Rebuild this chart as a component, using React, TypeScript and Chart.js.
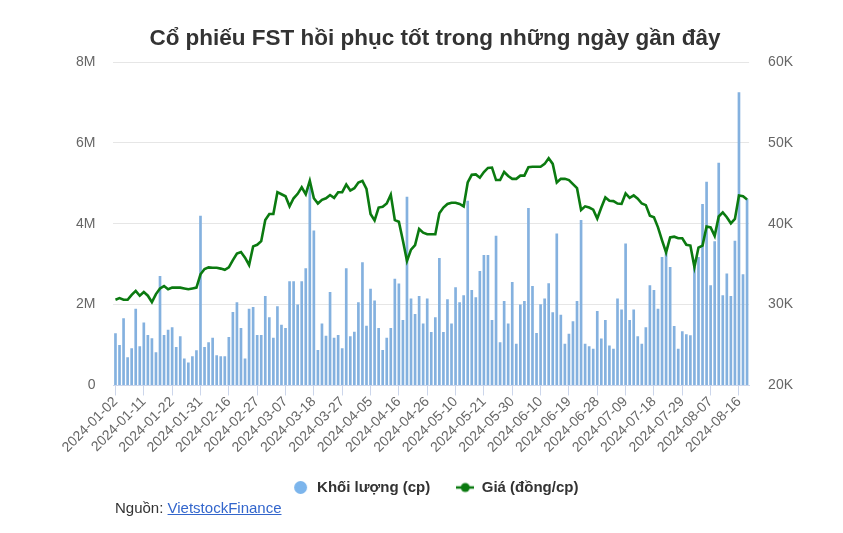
import React, { useEffect, useRef } from 'react';
import { Chart, registerables } from 'chart.js';

Chart.register(...registerables);

const TITLE = 'Cổ phiếu FST hồi phục tốt trong những ngày gần đây';
const VOLUME_LABEL = 'Khối lượng (cp)';
const PRICE_LABEL = 'Giá (đồng/cp)';

const dates: string[] = [
  '2024-01-02','2024-01-03','2024-01-04','2024-01-05','2024-01-08','2024-01-09','2024-01-10','2024-01-11','2024-01-12','2024-01-15',
  '2024-01-16','2024-01-17','2024-01-18','2024-01-19','2024-01-22','2024-01-23','2024-01-24','2024-01-25','2024-01-26','2024-01-29',
  '2024-01-30','2024-01-31','2024-02-01','2024-02-02','2024-02-05','2024-02-06','2024-02-07','2024-02-15','2024-02-16','2024-02-19',
  '2024-02-20','2024-02-21','2024-02-22','2024-02-23','2024-02-26','2024-02-27','2024-02-28','2024-02-29','2024-03-01','2024-03-04',
  '2024-03-05','2024-03-06','2024-03-07','2024-03-08','2024-03-11','2024-03-12','2024-03-13','2024-03-14','2024-03-15','2024-03-18',
  '2024-03-19','2024-03-20','2024-03-21','2024-03-22','2024-03-25','2024-03-26','2024-03-27','2024-03-28','2024-03-29','2024-04-01',
  '2024-04-02','2024-04-03','2024-04-04','2024-04-05','2024-04-08','2024-04-09','2024-04-10','2024-04-11','2024-04-12','2024-04-15',
  '2024-04-16','2024-04-17','2024-04-19','2024-04-22','2024-04-23','2024-04-24','2024-04-25','2024-04-26','2024-05-02','2024-05-03',
  '2024-05-06','2024-05-07','2024-05-08','2024-05-09','2024-05-10','2024-05-13','2024-05-14','2024-05-15','2024-05-16','2024-05-17',
  '2024-05-20','2024-05-21','2024-05-22','2024-05-23','2024-05-24','2024-05-27','2024-05-28','2024-05-29','2024-05-30','2024-05-31',
  '2024-06-03','2024-06-04','2024-06-05','2024-06-06','2024-06-07','2024-06-10','2024-06-11','2024-06-12','2024-06-13','2024-06-14',
  '2024-06-17','2024-06-18','2024-06-19','2024-06-20','2024-06-21','2024-06-24','2024-06-25','2024-06-26','2024-06-27','2024-06-28',
  '2024-07-01','2024-07-02','2024-07-03','2024-07-04','2024-07-05','2024-07-08','2024-07-09','2024-07-10','2024-07-11','2024-07-12',
  '2024-07-15','2024-07-16','2024-07-17','2024-07-18','2024-07-19','2024-07-22','2024-07-23','2024-07-24','2024-07-25','2024-07-26',
  '2024-07-29','2024-07-30','2024-07-31','2024-08-01','2024-08-02','2024-08-05','2024-08-06','2024-08-07','2024-08-08','2024-08-09',
  '2024-08-12','2024-08-13','2024-08-14','2024-08-15','2024-08-16','2024-08-19','2024-08-20',
];

// Khối lượng (cp)
const volumes: number[] = [
  1290000,1000000,1660000,700000,920000,1900000,970000,1560000,1250000,1170000,
  820000,2710000,1250000,1380000,1440000,950000,1220000,670000,570000,720000,
  870000,4200000,950000,1070000,1180000,750000,720000,720000,1200000,1820000,
  2060000,1420000,670000,1900000,1940000,1250000,1250000,2210000,1690000,1180000,
  1960000,1500000,1420000,2580000,2580000,2000000,2580000,2900000,4900000,3830000,
  880000,1530000,1230000,2310000,1180000,1250000,920000,2900000,1220000,1330000,
  2060000,3050000,1480000,2390000,2100000,1420000,880000,1180000,1420000,2640000,
  2520000,1620000,4670000,2150000,1770000,2210000,1530000,2150000,1320000,1690000,
  3150000,1320000,2130000,1530000,2430000,2060000,2230000,4570000,2360000,2180000,
  2830000,3230000,3230000,1620000,3700000,1070000,2090000,1530000,2560000,1030000,
  2000000,2090000,4390000,2460000,1300000,2010000,2150000,2530000,1810000,3760000,
  1750000,1030000,1280000,1590000,2090000,4090000,1030000,970000,910000,1840000,
  1160000,1620000,990000,910000,2150000,1880000,3510000,1620000,1880000,1220000,
  1030000,1440000,2480000,2360000,1900000,3180000,3280000,2930000,1470000,910000,
  1340000,1270000,1240000,2930000,3180000,4490000,5040000,2480000,3570000,5510000,
  2230000,2770000,2210000,3580000,7250000,2750000,4620000,
];

// Giá (đồng/cp)
const prices: number[] = [
  30600,30800,30600,30600,31200,31700,31100,31550,31100,30300,
  31300,32000,32300,31900,32100,32100,32100,32000,31900,32000,
  32100,33750,34400,34600,34550,34550,34450,34300,34600,35500,
  36300,36500,35800,34900,37200,37400,37850,40450,41200,41200,
  43900,43650,43400,42150,43150,43700,44500,43650,45300,43150,
  42500,42950,43150,43550,43200,43900,43900,44850,44100,44400,
  45100,45300,44300,41200,40400,42000,42100,42500,43600,40450,
  40250,37900,35400,36800,37350,39350,38900,38700,38700,38700,
  41300,42000,42450,42600,42600,42450,42150,45100,46050,46100,
  45700,46400,46900,46950,45400,45400,46400,45900,45550,45550,
  45950,45950,47000,47050,47050,47050,47400,48100,47400,45100,
  45550,45550,45400,44900,44400,41700,42150,42000,41750,40650,
  42000,43250,42850,42800,42500,42450,43750,43200,43500,43100,
  42500,42300,41000,40800,39550,37950,36450,38300,38400,38200,
  38200,37400,37300,34650,37050,37300,39650,39550,38500,40900,
  41400,40800,40050,40600,43500,43400,43000,
];

const volumeTicks: number[] = [0, 2000000, 4000000, 6000000, 8000000];
const priceTicks: number[] = [20000, 30000, 40000, 50000, 60000];
const LABEL_EVERY = 7;

const BAR_COLOR = '#84b1df';
const LEGEND_BAR_COLOR = '#7cb5ec';
const LINE_COLOR = '#0b7a10';
const FONT = '"Liberation Sans", Arial, Helvetica, sans-serif';

function makeCircle(color: string, r: number): HTMLCanvasElement {
  const c = document.createElement('canvas');
  c.width = r * 2 + 2;
  c.height = r * 2 + 2;
  const ctx = c.getContext('2d')!;
  ctx.fillStyle = color;
  ctx.beginPath();
  ctx.arc(c.width / 2, c.height / 2, r, 0, Math.PI * 2);
  ctx.fill();
  return c;
}

function makeLineMarker(color: string): HTMLCanvasElement {
  const c = document.createElement('canvas');
  c.width = 18;
  c.height = 12;
  const ctx = c.getContext('2d')!;
  ctx.strokeStyle = color;
  ctx.lineWidth = 2.5;
  ctx.beginPath();
  ctx.moveTo(0, 6);
  ctx.lineTo(18, 6);
  ctx.stroke();
  ctx.fillStyle = color;
  ctx.beginPath();
  ctx.arc(9, 6, 4.5, 0, Math.PI * 2);
  ctx.fill();
  return c;
}

export default function App() {
  const canvasRef = useRef<HTMLCanvasElement | null>(null);

  useEffect(() => {
    if (!canvasRef.current) return;
    Chart.defaults.font.family = FONT;
    const circleMarker = makeCircle(LEGEND_BAR_COLOR, 6.5);
    const lineMarker = makeLineMarker(LINE_COLOR);

    const chart = new Chart(canvasRef.current, {
      type: 'bar',
      data: {
        labels: dates,
        datasets: [
          {
            type: 'bar',
            label: VOLUME_LABEL,
            data: volumes,
            backgroundColor: BAR_COLOR,
            borderWidth: 0,
            barPercentage: 0.66,
            categoryPercentage: 1,
            yAxisID: 'yVol',
            order: 1,
          },
          {
            type: 'line',
            label: PRICE_LABEL,
            data: prices,
            borderColor: LINE_COLOR,
            backgroundColor: LINE_COLOR,
            borderWidth: 2.6,
            pointRadius: 0,
            pointHoverRadius: 0,
            tension: 0,
            yAxisID: 'yPrice',
            order: 0,
          } as any,
        ],
      },
      options: {
        responsive: true,
        maintainAspectRatio: false,
        animation: false,
        layout: { padding: { left: 50, right: 23, top: 0, bottom: 20 } },
        plugins: {
          title: {
            display: true,
            text: TITLE,
            color: '#333333',
            font: { size: 22.5, weight: 'bold', family: FONT },
            padding: { top: 17, bottom: 10 },
          },
          legend: {
            position: 'bottom',
            labels: {
              usePointStyle: true,
              pointStyleWidth: 18,
              padding: 26,
              color: '#333333',
              font: { size: 15, weight: 'bold', family: FONT },
              generateLabels: () => [
                {
                  text: VOLUME_LABEL,
                  fillStyle: LEGEND_BAR_COLOR,
                  strokeStyle: LEGEND_BAR_COLOR,
                  lineWidth: 0,
                  pointStyle: circleMarker as any,
                  datasetIndex: 0,
                  hidden: false,
                  fontColor: '#333333',
                },
                {
                  text: PRICE_LABEL,
                  fillStyle: LINE_COLOR,
                  strokeStyle: LINE_COLOR,
                  lineWidth: 0,
                  pointStyle: lineMarker as any,
                  datasetIndex: 1,
                  hidden: false,
                  fontColor: '#333333',
                },
              ],
            },
          },
          tooltip: { enabled: false },
        },
        scales: {
          x: {
            offset: true,
            afterBuildTicks: (scale: any) => {
              scale.ticks = scale.ticks.filter((t: any, i: number) => i % LABEL_EVERY === 0);
            },
            grid: {
              offset: false,
              drawOnChartArea: false,
              drawTicks: true,
              tickLength: 10,
              tickColor: '#ccd6eb',
            },
            border: { display: true, color: '#ccd6eb' },
            ticks: {
              autoSkip: false,
              minRotation: 45,
              maxRotation: 45,
              padding: -2,
              color: '#666666',
              font: { size: 14, family: FONT },
            },
          },
          yVol: {
            type: 'linear',
            position: 'left',
            min: 0,
            max: 8000000,
            afterBuildTicks: (scale: any) => {
              scale.ticks = volumeTicks.map((v) => ({ value: v }));
            },
            grid: { color: '#e6e6e6', drawTicks: false, lineWidth: 1 },
            border: { display: false },
            ticks: {
              padding: 18,
              color: '#666666',
              font: { size: 14, family: FONT },
              callback: (v: any) => (Number(v) === 0 ? '0' : Number(v) / 1000000 + 'M'),
            },
          },
          yPrice: {
            type: 'linear',
            position: 'right',
            min: 20000,
            max: 60000,
            afterBuildTicks: (scale: any) => {
              scale.ticks = priceTicks.map((v) => ({ value: v }));
            },
            grid: { display: false, drawTicks: false },
            border: { display: false },
            ticks: {
              padding: 19,
              color: '#666666',
              font: { size: 14, family: FONT },
              callback: (v: any) => Number(v) / 1000 + 'K',
            },
          },
        },
      } as any,
    });
    return () => chart.destroy();
  }, []);

  return (
    <div style={{ position: 'relative', width: 827, height: 517 }}>
      <canvas ref={canvasRef} />
      <div
        style={{
          position: 'absolute',
          left: 107,
          top: 491,
          fontFamily: FONT,
          fontSize: 15,
          color: '#333333',
          lineHeight: '18px',
          whiteSpace: 'nowrap',
        }}
      >
        Nguồn:{' '}
        <a href="#" style={{ color: '#3366cc', textDecoration: 'underline' }}>
          VietstockFinance
        </a>
      </div>
    </div>
  );
}
